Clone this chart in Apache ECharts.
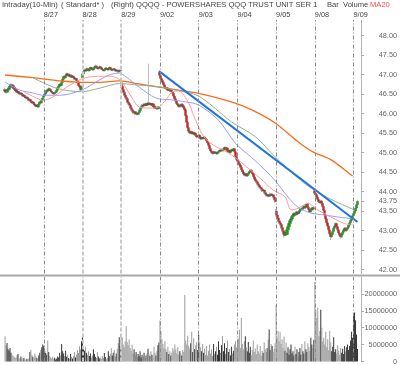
<!DOCTYPE html>
<html><head><meta charset="utf-8">
<script src="https://cdn.jsdelivr.net/npm/echarts@6/dist/echarts.min.js"></script>
<style>html,body{margin:0;padding:0;background:#fff}#c{width:400px;height:365px}</style>
</head><body><div id="c"></div>
<script>
const dayLabels = ['8/26','8/27','8/28','8/29','9/02','9/03','9/04','9/05','9/08','9/09'];
const barsPerDay = 39;
const slotCount = 359;

const opens = [
46.62,46.58,46.55,46.60,46.62,46.66,46.70,46.74,46.72,46.68,46.64,46.62,46.58,46.55,46.56,46.52,46.50,46.53,46.49,46.45,46.47,46.43,46.40,46.42,46.38,46.34,46.36,46.31,46.28,46.30,46.25,46.22,46.19,46.22,46.17,46.24,46.30,46.28,46.35,
46.42,46.45,46.50,46.55,46.60,46.58,46.64,46.62,46.58,46.55,46.52,46.50,46.54,46.55,46.60,46.66,46.70,46.75,46.72,46.80,46.88,46.95,46.92,46.98,47.02,46.97,47.00,46.95,46.98,46.93,46.96,46.92,46.88,46.90,46.84,46.80,46.72,46.68,46.62,
46.92,47.02,47.08,47.12,47.10,47.15,47.13,47.10,47.16,47.18,47.14,47.12,47.16,47.20,47.22,47.18,47.15,47.17,47.20,47.18,47.14,47.12,47.10,47.14,47.17,47.15,47.12,47.16,47.18,47.14,47.11,47.13,47.15,47.12,47.09,47.12,47.10,47.07,47.10,
46.78,46.70,46.62,46.55,46.48,46.42,46.38,46.30,46.26,46.22,46.15,46.10,46.06,46.02,46.05,45.99,46.01,45.98,46.03,46.08,46.14,46.18,46.22,46.20,46.24,46.21,46.25,46.22,46.27,46.24,46.26,46.22,46.25,46.20,46.17,46.14,46.16,46.12,46.15,
47.06,46.98,46.90,46.85,46.80,46.74,46.68,46.64,46.66,46.60,46.62,46.58,46.60,46.56,46.52,46.45,46.38,46.32,46.26,46.22,46.18,46.22,46.19,46.24,46.20,46.15,46.10,45.95,45.78,45.64,45.55,45.50,45.54,45.49,45.52,45.47,45.50,45.44,45.40,
45.42,45.45,45.40,45.35,45.38,45.36,45.40,45.37,45.34,45.30,45.25,45.18,45.10,45.04,45.00,44.98,45.02,44.99,45.01,44.97,45.00,45.03,45.06,45.04,45.08,45.05,45.10,45.13,45.08,45.12,45.02,45.06,45.00,45.04,45.08,45.05,45.10,45.02,44.90,
44.82,44.78,44.72,44.68,44.62,44.56,44.50,44.45,44.42,44.46,44.40,44.44,44.48,44.52,44.55,44.50,44.45,44.38,44.32,44.28,44.25,44.20,44.16,44.12,44.10,44.06,44.02,44.04,43.98,43.94,43.90,43.92,43.88,43.91,43.94,43.90,43.92,43.86,43.80,
43.50,43.40,43.32,43.25,43.20,43.16,43.08,43.00,42.92,42.88,42.95,42.90,43.02,43.10,43.18,43.25,43.30,43.36,43.40,43.44,43.40,43.45,43.48,43.44,43.47,43.52,43.56,43.54,43.58,43.62,43.58,43.64,43.68,43.60,43.54,43.48,43.52,43.58,43.55,
44.02,43.96,43.92,43.86,43.80,43.74,43.72,43.76,43.70,43.62,43.52,43.40,43.30,43.20,43.12,43.02,42.92,42.84,42.90,42.98,43.06,43.12,43.18,43.10,43.02,42.94,42.88,42.84,42.90,42.96,43.02,43.06,43.00,43.04,43.08,43.14,43.20,43.26,43.32,
43.38,43.44,43.50,43.58,43.66
];
const closes = [
46.58,46.55,46.60,46.62,46.66,46.70,46.74,46.72,46.68,46.64,46.62,46.58,46.55,46.56,46.52,46.50,46.53,46.49,46.45,46.47,46.43,46.40,46.42,46.38,46.34,46.36,46.31,46.28,46.30,46.25,46.22,46.19,46.22,46.17,46.24,46.30,46.28,46.35,46.40,
46.45,46.50,46.55,46.60,46.58,46.64,46.62,46.58,46.55,46.52,46.50,46.54,46.55,46.60,46.66,46.70,46.75,46.72,46.80,46.88,46.95,46.92,46.98,47.02,46.97,47.00,46.95,46.98,46.93,46.96,46.92,46.88,46.90,46.84,46.80,46.72,46.68,46.62,46.70,
47.02,47.08,47.12,47.10,47.15,47.13,47.10,47.16,47.18,47.14,47.12,47.16,47.20,47.22,47.18,47.15,47.17,47.20,47.18,47.14,47.12,47.10,47.14,47.17,47.15,47.12,47.16,47.18,47.14,47.11,47.13,47.15,47.12,47.09,47.12,47.10,47.07,47.10,47.12,
46.70,46.62,46.55,46.48,46.42,46.38,46.30,46.26,46.22,46.15,46.10,46.06,46.02,46.05,45.99,46.01,45.98,46.03,46.08,46.14,46.18,46.22,46.20,46.24,46.21,46.25,46.22,46.27,46.24,46.26,46.22,46.25,46.20,46.17,46.14,46.16,46.12,46.15,46.18,
46.98,46.90,46.85,46.80,46.74,46.68,46.64,46.66,46.60,46.62,46.58,46.60,46.56,46.52,46.45,46.38,46.32,46.26,46.22,46.18,46.22,46.19,46.24,46.20,46.15,46.10,45.95,45.78,45.64,45.55,45.50,45.54,45.49,45.52,45.47,45.50,45.44,45.40,45.42,
45.45,45.40,45.35,45.38,45.36,45.40,45.37,45.34,45.30,45.25,45.18,45.10,45.04,45.00,44.98,45.02,44.99,45.01,44.97,45.00,45.03,45.06,45.04,45.08,45.05,45.10,45.13,45.08,45.12,45.02,45.06,45.00,45.04,45.08,45.05,45.10,45.02,44.90,44.82,
44.78,44.72,44.68,44.62,44.56,44.50,44.45,44.42,44.46,44.40,44.44,44.48,44.52,44.55,44.50,44.45,44.38,44.32,44.28,44.25,44.20,44.16,44.12,44.10,44.06,44.02,44.04,43.98,43.94,43.90,43.92,43.88,43.91,43.94,43.90,43.92,43.86,43.80,43.74,
43.40,43.32,43.25,43.20,43.16,43.08,43.00,42.92,42.88,42.95,42.90,43.02,43.10,43.18,43.25,43.30,43.36,43.40,43.44,43.40,43.45,43.48,43.44,43.47,43.52,43.56,43.54,43.58,43.62,43.58,43.64,43.68,43.60,43.54,43.48,43.52,43.58,43.55,43.60,
43.96,43.92,43.86,43.80,43.74,43.72,43.76,43.70,43.62,43.52,43.40,43.30,43.20,43.12,43.02,42.92,42.84,42.90,42.98,43.06,43.12,43.18,43.10,43.02,42.94,42.88,42.84,42.90,42.96,43.02,43.06,43.00,43.04,43.08,43.14,43.20,43.26,43.32,43.38,
43.44,43.50,43.58,43.66,43.75
];
const highs = [
46.66,46.61,46.63,46.65,46.69,46.74,46.78,46.76,46.75,46.70,46.67,46.64,46.61,46.59,46.58,46.55,46.56,46.55,46.52,46.50,46.49,46.46,46.45,46.44,46.41,46.39,46.38,46.34,46.33,46.32,46.28,46.24,46.25,46.24,46.27,46.33,46.32,46.38,46.43,
46.49,46.53,46.58,46.63,46.63,46.67,46.66,46.64,46.60,46.57,46.54,46.57,46.58,46.63,46.69,46.73,46.78,46.77,46.83,46.91,46.98,46.97,47.01,47.05,47.05,47.03,47.03,47.00,47.01,46.99,46.98,46.94,46.92,46.92,46.86,46.82,46.75,46.70,46.73,
47.05,47.11,47.15,47.14,47.18,47.17,47.15,47.19,47.21,47.20,47.16,47.19,47.23,47.25,47.24,47.20,47.19,47.23,47.22,47.20,47.16,47.14,47.16,47.19,47.19,47.17,47.19,47.21,47.20,47.16,47.15,47.17,47.17,47.14,47.14,47.14,47.12,47.12,47.14,
46.82,46.73,46.65,46.58,46.51,46.45,46.40,46.33,46.29,46.25,46.18,46.13,46.08,46.08,46.07,46.04,46.03,46.05,46.11,46.17,46.21,46.25,46.24,46.27,46.26,46.28,46.27,46.30,47.28,46.29,46.28,46.27,46.27,46.22,46.19,46.18,46.18,46.17,46.20,
47.10,47.01,46.93,46.88,46.83,46.77,46.71,46.68,46.69,46.65,46.64,46.62,46.63,46.58,46.55,46.48,46.41,46.35,46.29,46.25,46.25,46.25,46.27,46.27,46.22,46.18,46.12,45.98,45.81,45.67,45.58,45.57,45.56,45.55,45.54,45.53,45.52,45.46,45.45,
45.49,45.48,45.43,45.41,45.40,45.43,45.42,45.39,45.36,45.32,45.27,45.20,45.12,45.06,45.02,45.05,45.04,45.03,45.03,45.02,45.06,45.08,45.08,45.11,45.10,45.13,45.16,45.15,45.15,45.14,45.08,45.08,45.06,45.10,45.10,45.12,45.12,45.04,44.92,
44.85,44.81,44.75,44.71,44.65,44.59,44.53,44.48,44.49,44.48,44.47,44.51,44.55,44.58,44.58,44.53,44.48,44.41,44.35,44.31,44.28,44.23,44.19,44.15,44.13,44.09,44.07,44.06,44.01,43.97,43.95,43.94,43.94,43.97,43.96,43.95,43.94,43.89,43.83,
43.55,43.43,43.35,43.28,43.23,43.19,43.11,43.03,42.95,42.98,42.98,43.05,43.13,43.21,43.28,43.33,43.39,43.43,43.47,43.46,43.48,43.51,43.50,43.50,43.55,43.59,43.59,43.61,43.65,43.64,43.67,43.72,43.70,43.63,43.56,43.55,43.61,43.60,43.63,
44.06,43.99,43.95,43.89,43.83,43.77,43.79,43.79,43.73,43.65,43.55,43.43,43.33,43.23,43.15,43.05,42.95,42.93,43.01,43.09,43.15,43.21,43.21,43.13,43.05,42.97,42.91,42.93,42.99,43.05,43.09,43.09,43.07,43.11,43.17,43.23,43.29,43.35,43.41,
43.47,43.54,43.62,43.70,43.79
];
const lows = [
46.54,46.52,46.52,46.57,46.60,46.63,46.68,46.69,46.65,46.61,46.59,46.56,46.52,46.53,46.49,46.47,46.48,46.46,46.42,46.43,46.40,46.37,46.38,46.35,46.31,46.32,46.28,46.25,46.26,46.22,46.19,46.16,46.17,46.14,46.15,46.21,46.26,46.25,46.33,
46.39,46.42,46.47,46.52,46.55,46.56,46.59,46.56,46.53,46.50,46.48,46.48,46.51,46.53,46.58,46.63,46.68,46.69,46.70,46.78,46.86,46.90,46.90,46.96,46.95,46.95,46.93,46.93,46.91,46.91,46.90,46.86,46.86,46.82,46.78,46.70,46.66,46.60,46.60,
46.88,46.99,47.05,47.08,47.07,47.11,47.08,47.08,47.14,47.12,47.10,47.10,47.14,47.18,47.16,47.13,47.13,47.15,47.16,47.12,47.10,47.08,47.08,47.12,47.13,47.10,47.10,47.14,47.12,47.09,47.09,47.11,47.10,47.07,47.07,47.08,47.05,47.05,47.08,
46.66,46.59,46.52,46.45,46.39,46.35,46.27,46.23,46.19,46.12,46.07,46.03,45.99,46.00,45.96,45.97,45.95,45.96,46.01,46.06,46.12,46.16,46.18,46.18,46.19,46.19,46.20,46.20,46.22,46.22,46.20,46.20,46.18,46.15,46.12,46.12,46.10,46.10,46.13,
46.94,46.87,46.82,46.77,46.71,46.65,46.61,46.61,46.57,46.58,46.55,46.55,46.53,46.49,46.42,46.35,46.29,46.23,46.19,46.15,46.15,46.16,46.16,46.17,46.12,46.07,45.92,45.75,45.61,45.52,45.47,45.48,45.46,45.47,45.44,45.45,45.41,45.37,45.38,
45.39,45.37,45.32,45.32,45.33,45.33,45.35,45.31,45.27,45.22,45.15,45.07,45.01,44.97,44.95,44.95,44.96,44.97,44.94,44.95,44.98,45.01,45.01,45.02,45.03,45.03,45.08,45.05,45.06,45.00,45.00,44.98,44.98,45.02,45.03,45.03,45.00,44.87,44.79,
44.74,44.69,44.65,44.59,44.53,44.47,44.42,44.39,44.39,44.37,44.38,44.42,44.46,44.50,44.47,44.42,44.35,44.29,44.25,44.22,44.17,44.13,44.09,44.07,44.03,43.99,44.00,43.95,43.91,43.87,43.87,43.85,43.86,43.89,43.87,43.88,43.83,43.77,43.71,
43.36,43.29,43.22,43.17,43.13,43.05,42.97,42.89,42.82,42.85,42.87,42.87,42.99,43.07,43.15,43.22,43.27,43.33,43.37,43.37,43.37,43.42,43.41,43.41,43.44,43.49,43.51,43.51,43.55,43.55,43.55,43.61,43.57,43.51,43.45,43.45,43.49,43.52,43.52,
43.93,43.89,43.83,43.77,43.71,43.69,43.69,43.67,43.59,43.49,43.37,43.27,43.17,43.09,42.99,42.89,42.76,42.81,42.87,42.95,43.03,43.09,43.07,42.99,42.91,42.85,42.78,42.81,42.87,42.93,42.99,42.97,42.97,43.01,43.05,43.11,43.17,43.23,43.29,
43.34,43.40,43.47,43.55,43.63
];
// volume in millions of shares
const volumesM = [
7.5,4.8,5.5,3.8,3.2,4.0,2.6,2.0,1.7,1.4,1.2,1.0,1.8,2.2,1.0,0.8,1.5,1.2,0.7,1.0,0.6,0.5,0.8,0.6,0.9,2.8,3.5,2.0,1.4,1.1,2.4,1.6,1.0,0.9,1.8,2.6,3.4,4.2,5.0,
4.6,3.2,2.5,2.0,6.2,2.8,1.6,1.2,0.9,1.4,0.8,1.1,0.6,0.9,1.5,1.2,2.6,1.8,5.2,3.0,2.4,1.6,3.2,1.4,2.0,1.0,0.8,2.2,1.3,0.9,1.6,2.8,1.2,2.0,3.3,2.5,4.5,3.6,6.0,
7.5,4.0,3.2,4.4,2.6,2.0,3.0,1.6,2.4,1.2,1.8,3.6,2.2,1.4,1.0,2.8,1.5,0.9,1.2,0.8,1.6,1.0,2.5,1.3,0.7,1.1,3.0,1.6,2.2,4.0,1.8,2.6,3.4,1.5,2.4,3.8,5.5,7.2,4.6,
8.0,7.2,5.0,4.2,6.0,10.4,5.8,4.8,6.5,4.0,3.2,5.0,2.4,3.6,1.8,2.8,1.4,2.2,1.6,3.0,1.2,2.0,1.5,2.6,1.0,1.8,2.4,3.8,2.2,1.6,3.0,2.0,1.2,4.4,2.6,1.8,3.2,4.8,5.6,
12.1,8.8,6.6,5.2,4.0,6.0,3.6,2.8,4.4,2.2,3.0,1.8,2.6,4.0,3.2,5.0,3.6,2.4,4.2,2.0,3.0,2.6,1.8,3.4,2.8,19.7,6.2,5.0,7.6,4.6,3.8,5.4,8.8,2.8,6.8,3.6,4.8,5.8,3.4,
8.0,5.6,4.2,3.0,5.2,2.6,3.8,2.0,4.6,1.8,3.2,5.0,2.4,3.6,1.6,5.2,2.2,3.0,4.4,2.0,6.0,3.4,2.6,4.8,7.5,3.0,5.4,2.2,4.0,6.2,2.8,3.6,1.8,4.4,2.4,3.2,5.0,6.0,4.2,
5.5,6.8,9.4,4.0,12.9,5.2,3.6,6.0,7.5,4.2,3.0,5.8,2.6,4.4,2.0,3.4,6.2,2.8,3.8,2.2,5.0,3.0,2.4,4.6,1.8,3.2,2.6,5.6,3.6,2.8,4.0,6.4,9.5,3.4,5.2,4.6,2.8,3.8,5.4,
16.8,7.0,9.0,6.0,8.8,5.2,6.6,4.0,7.4,3.2,5.6,2.6,4.2,2.0,3.6,5.0,2.4,3.0,1.8,4.4,2.2,3.6,1.6,2.8,4.0,2.0,5.2,3.0,2.4,6.0,3.6,2.8,5.4,4.2,3.2,7.0,5.0,4.0,6.4,
23.5,15.3,12.9,15.9,7.5,9.0,15.3,10.0,6.0,7.0,5.0,8.8,4.2,6.6,3.4,9.0,5.6,3.0,4.4,7.2,2.8,3.6,2.4,4.8,3.2,2.0,4.0,2.6,3.8,2.2,4.6,3.0,4.2,5.0,3.4,4.6,6.2,8.8,7.0,
14.0,14.5,12.2,8.0,3.7
];

const priceTicks = [42,42.5,43,43.5,43.75,44,44.5,45,45.5,46,46.5,47,47.5,48];
const volumeTicks = [0,5000000,10000000,15000000,20000000];

// moving averages: [bar index, price]
const maLong = [[0,46.99],[28,46.92],[55,46.84],[78,46.80],[95,46.80],[115,46.84],[135,46.76],[155,46.68],[175,46.60],[195,46.52],[228,46.30],[248,46.10],[272,45.76],[295,45.28],[310,45.02],[328,44.82],[350,44.40]];
const maGreen = [[28,46.92],[52,46.65],[77,46.56],[95,46.65],[115,46.77],[135,46.73],[155,46.69],[172,46.60],[195,46.45],[228,45.79],[252,45.41],[272,44.89],[295,44.35],[310,44.06],[330,43.78],[352,43.53]];
const maBlue = [[0,46.81],[15,46.60],[28,46.53],[38,46.47],[55,46.47],[77,46.60],[95,46.86],[105,46.99],[115,47.04],[122,46.94],[135,46.68],[152,46.40],[168,46.35],[182,46.30],[195,46.22],[215,45.83],[232,45.24],[248,44.88],[262,44.55],[272,44.28],[285,43.86],[295,43.60],[308,43.45],[322,43.40],[335,43.35],[352,43.30]];
const ma20 = [[19,46.56],[30,46.42],[38,46.34],[50,46.45],[62,46.68],[75,46.86],[85,46.94],[105,46.96],[115,46.88],[122,46.65],[128,46.40],[135,46.17],[148,46.14],[155,46.17],[162,46.35],[168,46.55],[175,46.58],[185,46.27],[190,45.95],[200,45.41],[210,45.19],[223,45.02],[233,44.85],[243,44.64],[257,44.34],[270,44.04],[282,43.87],[288,43.53],[295,43.57],[305,43.70],[315,43.53],[328,43.35],[342,43.18],[350,43.16]];
const trendLine = [[155,47.09],[355,43.22]];

const cats = Array.from({length: slotCount}, (_, i) => String(i));
const candles = opens.map((o, i) => [o, closes[i], lows[i], highs[i]]);
const volData = volumesM.map((v, i) => ({
  value: v * 1e6,
  itemStyle: {color: closes[i] > opens[i] ? '#333' : (closes[i] < opens[i] ? '#9c9c9c' : '#c8c8c8')}
}));
const dayLines = dayLabels.slice(1).map((d, k) => ({
  xAxis: (k + 1) * barsPerDay,
  lineStyle: (k === 1 || k === 2) ? {color: '#c8c8c8', width: 2, type: [4, 2]} : {color: '#8a8a8a', width: 1, type: [4, 2, 1, 2]}
}));
const FONT = 'Liberation Sans';
const gL = 4.55, gW = 356.7;

const titleParts = [
  {text: 'Intraday(10-Min)', left: 2},
  {text: '( Standard* )', left: 61},
  {text: '(Right)', left: 111},
  {text: 'QQQQ - POWERSHARES QQQ TRUST UNIT SER 1', left: 136},
  {text: 'Bar', left: 327},
  {text: 'Volume', left: 343},
  {text: 'MA20', left: 370, color: '#ff4a4a'}
];

const chart = echarts.init(document.getElementById('c'), null, {renderer: 'canvas'});
chart.setOption({
  animation: false,
  backgroundColor: '#fff',
  title: titleParts.map(t => ({
    text: t.text, left: t.left, top: 1, padding: 0,
    textStyle: {fontSize: 7.6, fontWeight: 'normal', color: t.color || '#444', fontFamily: FONT}
  })),
  grid: [
    {left: gL, top: 20, width: gW, height: 253.5, containLabel: false},
    {left: gL, top: 277, width: gW, height: 85, containLabel: false}
  ],
  xAxis: [
    {type: 'category', gridIndex: 0, data: cats, position: 'top', boundaryGap: true,
     axisLine: {show: false}, axisTick: {show: false}, splitLine: {show: false},
     axisLabel: {interval: (i) => i > 0 && i % barsPerDay === 0, formatter: (v) => dayLabels[Number(v) / barsPerDay] || '',
       align: 'left', margin: 2, fontSize: 7.3, color: '#444', fontFamily: FONT}},
    {type: 'category', gridIndex: 1, data: cats, boundaryGap: true,
     axisLine: {show: false}, axisTick: {show: false}, axisLabel: {show: false}, splitLine: {show: false}}
  ],
  yAxis: [
    {type: 'value', gridIndex: 0, position: 'right', min: 41.9, max: 48.4,
     axisLine: {show: true, lineStyle: {color: '#aaa', type: 'dotted'}},
     axisTick: {show: true, customValues: priceTicks, length: 3, lineStyle: {color: '#aaa'}},
     axisLabel: {customValues: priceTicks, formatter: (v) => Number(v).toFixed(2), align: 'right', margin: 36,
       fontSize: 7.3, color: '#666', fontFamily: FONT},
     splitLine: {show: false}},
    {type: 'value', gridIndex: 1, position: 'right', min: 0, max: 25000000,
     axisLine: {show: true, lineStyle: {color: '#aaa', type: 'dotted'}},
     axisTick: {show: true, customValues: volumeTicks, length: 3, lineStyle: {color: '#aaa'}},
     axisLabel: {customValues: volumeTicks, formatter: (v) => String(v), align: 'right', margin: 36,
       fontSize: 7.3, color: '#666', fontFamily: FONT},
     splitLine: {show: false}}
  ],
  series: [
    {type: 'candlestick', xAxisIndex: 0, yAxisIndex: 0, data: candles, barWidth: 2.6,
     itemStyle: {color: '#00b400', color0: '#ff1010', borderColor: '#555', borderColor0: '#555', borderWidth: 0.4},
     markLine: {silent: true, symbol: ['none', 'none'], label: {show: false}, data: dayLines, animation: false}},
    {type: 'line', data: maLong, smooth: 0.3, showSymbol: false, lineStyle: {color: '#ff6a1a', width: 1.3}, z: 3},
    {type: 'line', data: maGreen, smooth: 0.3, showSymbol: false, lineStyle: {color: '#8fb28f', width: 1}, z: 3},
    {type: 'line', data: maBlue, smooth: 0.3, showSymbol: false, lineStyle: {color: '#9a9cff', width: 1}, z: 3},
    {type: 'line', data: ma20, smooth: 0.3, showSymbol: false, lineStyle: {color: '#ff9a9a', width: 1}, z: 3},
    {type: 'line', data: trendLine, showSymbol: false, lineStyle: {color: '#1f74e0', width: 2}, z: 4},
    {type: 'bar', xAxisIndex: 1, yAxisIndex: 1, data: volData, barWidth: 1,
     markLine: {silent: true, symbol: ['none', 'none'], label: {show: false}, data: dayLines, animation: false}}
  ],
  graphic: [
    {type: 'line', shape: {x1: 0, y1: 275.5, x2: 400, y2: 275.5}, style: {stroke: '#a8a8a8', lineWidth: 2}, silent: true}
  ]
});
</script>
</body></html>
